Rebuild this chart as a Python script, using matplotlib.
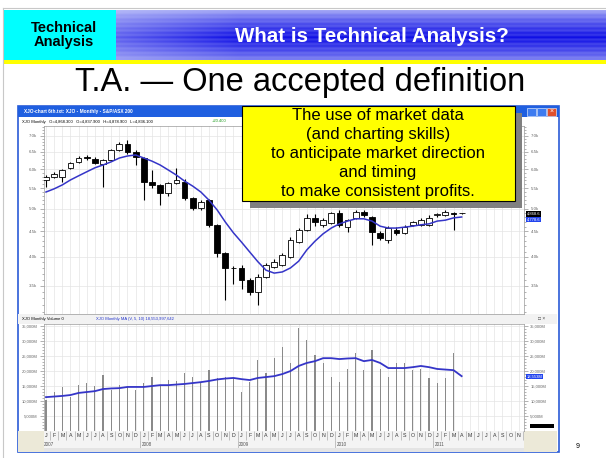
import numpy as np
import matplotlib.pyplot as plt
from matplotlib.patches import Rectangle
from matplotlib.ticker import FixedLocator, NullFormatter

plt.rcParams['font.family'] = ['Liberation Sans', 'DejaVu Sans']

W, H = 606, 458

# XJO monthly candles from Jan 2007
opens = [5710, 5790, 5790, 6040, 6210, 6340, 6300, 6150, 6270, 6560,
         6750, 6500, 6330, 5660, 5580, 5380, 5630, 5660, 5250, 5020,
         5210, 4640, 4080, 3800, 3800, 3600, 3400, 3650, 3820, 3850,
         4000, 4290, 4530, 4790, 4640, 4680, 4900, 4600, 4790, 4920,
         4810, 4470, 4330, 4530, 4470, 4640, 4640, 4640, 4850, 4860,
         4900, 4900]
highs = [5850, 5930, 6000, 6210, 6380, 6420, 6350, 6290, 6600, 6800,
         6870, 6550, 6350, 5980, 5600, 5660, 6040, 5730, 5280, 5200,
         5230, 4660, 4100, 3830, 3850, 3620, 3700, 3880, 3960, 4080,
         4380, 4580, 4880, 4870, 4790, 4930, 4980, 4770, 4980, 4960,
         4840, 4500, 4620, 4600, 4640, 4730, 4790, 4850, 4900, 4960,
         4920, 4910]
lows = [5530, 5760, 5660, 6000, 6180, 6270, 6150, 5530, 6230, 6520,
        6450, 6120, 5210, 5500, 5090, 5300, 5600, 5200, 4960, 4980,
        4600, 4000, 3280, 3520, 3440, 3350, 3200, 3620, 3790, 3830,
        3980, 4260, 4500, 4620, 4600, 4650, 4600, 4490, 4760, 4800,
        4230, 4320, 4270, 4430, 4440, 4620, 4620, 4620, 4800, 4840,
        4530, 4880]
closes = [5790, 5870, 5980, 6180, 6330, 6320, 6180, 6270, 6560, 6750,
          6500, 6350, 5660, 5580, 5380, 5630, 5710, 5250, 5020, 5160,
          4640, 4080, 3800, 3790, 3600, 3400, 3650, 3850, 3910, 4040,
          4330, 4530, 4790, 4700, 4750, 4900, 4640, 4750, 4920, 4860,
          4490, 4370, 4580, 4470, 4600, 4700, 4750, 4790, 4870, 4920,
          4880, 4890]
price_ma = [5400, 5480, 5580, 5710, 5820, 5930, 6040, 6120, 6210, 6320,
            6380, 6410, 6320, 6230, 6120, 5980, 5840, 5680, 5550, 5400,
            5200, 4970, 4700, 4470, 4280, 4090, 3910, 3760, 3710, 3730,
            3800, 3920, 4130, 4300, 4450, 4570, 4660, 4720, 4770, 4770,
            4720, 4610, 4570, 4570, 4590, 4610, 4640, 4660, 4720, 4740,
            4790, 4810]
# monthly volume, millions
volumes = [10300, 13000, 14700, 11300, 15300, 16000, 15000, 18700, 13700, 15300,
           14700, 13700, 16000, 18000, 15300, 17000, 16700, 19300, 18000, 16000,
           20300, 17700, 18000, 17700, 13000, 16300, 23700, 19300, 24300, 28000,
           22700, 34300, 30300, 25300, 22700, 18000, 16300, 20700, 26000, 20300,
           27000, 20700, 18000, 22700, 22700, 20300, 20700, 17700, 16000, 17700,
           26000]
volume_ma = [11300, 11500, 11700, 12000, 12700, 13000, 13300, 14000, 14200, 14300,
             14700, 14700, 14700, 15000, 15300, 15300, 15500, 15700, 16000, 16300,
             16700, 17200, 17500, 17700, 17300, 17000, 17700, 18000, 18300, 19000,
             20000, 21700, 22700, 23300, 24300, 24300, 24000, 24200, 24300, 23300,
             23700, 22700, 21000, 21000, 21000, 21300, 21700, 21300, 20700, 20500,
             20300, 18300]
month_letters = ['J', 'F', 'M', 'A', 'M', 'J', 'J', 'A', 'S', 'O', 'N', 'D']
years = ['2007', '2008', '2009', '2010', '2011']
n_months_axis = 59
price_ticks = [3500, 4000, 4500, 5000, 5500, 6000, 6500, 7000]
price_labels = ['3.5k', '4.0k', '4.5k', '5.0k', '5.5k', '6.0k', '6.5k', '7.0k']
vol_ticks = [5000, 10000, 15000, 20000, 25000, 30000, 35000]
vol_labels = ['5,000M', '10,000M', '15,000M', '20,000M', '25,000M', '30,000M', '35,000M']
definition = ['The use of market data', '(and charting skills)',
              'to anticipate market direction', 'and timing',
              'to make consistent profits.']

X0, X1 = -0.245, 58.65


def box(x0, y0, x1, y1):
    return [x0 / W, 1 - y1 / H, (x1 - x0) / W, (y1 - y0) / H]


fig = plt.figure(figsize=(W / 100, H / 100), dpi=100)

# ---- slide background / window chrome (pixel coords) ----
bg = fig.add_axes([0, 0, 1, 1])
bg.set_xlim(0, W)
bg.set_ylim(H, 0)
bg.axis('off')

bg.plot([3, 3], [8, H], color='#c8c8c8', lw=0.8)
bg.plot([3, W], [8, 8], color='#c8c8c8', lw=0.8)
bg.add_patch(Rectangle((4, 10), 112, 50, color='#00ffff', lw=0))

hy = np.linspace(0, 1, 50)[:, None]
hx = np.linspace(0, 1, 245)[None, :]
depth = np.clip(1 - np.abs(hy - 0.55) / 0.6, 0, 1) ** 0.6
streak = 0.5 + 0.5 * np.cos(hy * 2 * np.pi * 11)
fade = depth * (0.6 + 0.4 * np.clip(hx * 4, 0, 1)) * (0.85 + 0.15 * streak)
light = np.array([0.80, 0.82, 0.98])
dark = np.array([0.06, 0.06, 0.90])
grad = light * (1 - fade[..., None]) + dark * fade[..., None]
bg.imshow(grad, extent=(116, W, 60, 10), aspect='auto', interpolation='bilinear')
bg.set_xlim(0, W)
bg.set_ylim(H, 0)
bg.add_patch(Rectangle((4, 59.5), W - 4, 4.5, color='#ffff00', lw=0))

bg.text(64, 35, 'Technical\nAnalysis', ha='center', va='center', fontsize=10.5,
        fontweight='bold', linespacing=1.0)
bg.text(372, 37, 'What is Technical Analysis?', ha='center', va='center',
        fontsize=14.8, fontweight='bold', color='white')
bg.text(300, 82, 'T.A. \u2014 One accepted definition', ha='center', va='center',
        fontsize=23.5)

# window frame
bg.add_patch(Rectangle((18, 106), 541, 346, facecolor='white', edgecolor='#2a5bd7', lw=1.2))
bg.add_patch(Rectangle((18, 106), 541, 11, color='#1f5fe0', lw=0))
bg.text(24, 111.5, 'XJO-chart 6th.txt: XJO - Monthly - S&P/ASX 200', color='white',
        fontsize=3.4, fontweight='bold', va='center')
for bx, bc in [(527, '#3d7bf0'), (537, '#3d7bf0'), (547, '#e0502c')]:
    bg.add_patch(Rectangle((bx, 107.5), 9, 8.5, facecolor=bc, edgecolor='white', lw=0.4))
bg.text(551.5, 111.8, '\u00d7', color='white', fontsize=5, ha='center', va='center')
bg.text(22, 121.5, 'XJO Monthly   O=4,868.300   O=4,837.900   H=4,878.900   L=4,836.100',
        fontsize=3.0, va='center')
bg.text(212, 121.5, '+20.400', fontsize=3.0, va='center', color='#1a9a1a')
bg.add_patch(Rectangle((18, 314), 539, 10, color='#f2f2f2', lw=0))
bg.text(22, 319, 'XJO Monthly Volume 0', fontsize=3.0, va='center')
bg.text(96, 319, 'XJO Monthly MA (V, 5, 10) 18,553,997,642', fontsize=3.0,
        va='center', color='#2233cc')
bg.text(542, 319, '\u25a1 \u00d7', fontsize=3.5, va='center', ha='center', color='#444444')
bg.add_patch(Rectangle((18, 431), 26, 21, color='#ece9d8', lw=0))
bg.add_patch(Rectangle((524, 431), 33, 21, color='#ece9d8', lw=0))
bg.add_patch(Rectangle((44, 448), 480, 4, color='#e4e4e4', lw=0))
bg.add_patch(Rectangle((530, 424), 24, 4, color='black', lw=0))
bg.text(578, 446, '9', fontsize=5, ha='center', va='center')

x = np.arange(len(closes))

# ---- price pane ----
ax_p = fig.add_axes(box(44, 126, 524, 314))
ax_p.set_yscale('log')
ax_p.set_xlim(X0, X1)
ax_p.set_ylim(3070, 7330)
for m in range(n_months_axis):
    ax_p.axvline(m, color='#e4e4e4', lw=0.5, zorder=0)
for t in price_ticks:
    ax_p.axhline(t, color='#e4e4e4', lw=0.5, zorder=0)
up = [c >= o for o, c in zip(opens, closes)]
ax_p.vlines(x, lows, highs, color='black', lw=0.8, zorder=2)
ax_p.bar(x, [max(abs(c - o), 8) for o, c in zip(opens, closes)],
         bottom=[min(o, c) for o, c in zip(opens, closes)], width=0.7,
         color=['white' if u else 'black' for u in up], edgecolor='black',
         lw=0.6, zorder=3)
ax_p.plot(x, price_ma, color='#3535c8', lw=1.1, zorder=4)
ax_p.yaxis.set_major_locator(FixedLocator(price_ticks))
ax_p.set_yticklabels(price_labels)
ax_p.yaxis.set_minor_locator(FixedLocator(list(range(3100, 7400, 100))))
ax_p.yaxis.set_minor_formatter(NullFormatter())
ax_p.tick_params(axis='y', which='both', left=True, right=True, labelleft=True,
                 labelright=True, labelsize=3.2, labelcolor='#666666', color='#777777',
                 width=0.4, pad=2)
ax_p.tick_params(axis='y', which='major', length=3)
ax_p.tick_params(axis='y', which='minor', length=1.5)
ax_p.set_xticks([])
for s in ax_p.spines.values():
    s.set_color('#9a9a9a')
    s.set_linewidth(0.5)
for val, txt, fc in [(4880, '4,868.6', 'black'), (4760, '4,778.6', '#2244ee')]:
    ax_p.annotate(txt, xy=(1.0, val), xycoords=('axes fraction', 'data'),
                  xytext=(2, 0), textcoords='offset points', fontsize=3, color='white',
                  va='center', bbox=dict(boxstyle='square,pad=0.15', fc=fc, ec='none'))

# ---- volume pane ----
ax_v = fig.add_axes(box(44, 324, 524, 431))
ax_v.set_xlim(X0, X1)
ax_v.set_ylim(0, 35700)
for m in range(n_months_axis):
    ax_v.axvline(m, color='#e4e4e4', lw=0.5, zorder=0)
for t in vol_ticks:
    ax_v.axhline(t, color='#e4e4e4', lw=0.5, zorder=0)
ax_v.bar(x[:len(volumes)], volumes, width=0.14, color='#8a8a8a', zorder=2)
ax_v.plot(x, volume_ma, color='#3535c8', lw=1.3, zorder=3)
ax_v.yaxis.set_major_locator(FixedLocator(vol_ticks))
ax_v.set_yticklabels(vol_labels)
ax_v.yaxis.set_minor_locator(FixedLocator(list(range(1000, 35700, 1000))))
ax_v.tick_params(axis='y', which='both', left=True, right=True, labelleft=True,
                 labelright=True, labelsize=3.0, labelcolor='#666666', color='#777777',
                 width=0.4, pad=1.5)
ax_v.tick_params(axis='y', which='major', length=3)
ax_v.tick_params(axis='y', which='minor', length=1.5)
ax_v.set_xticks([])
for s in ax_v.spines.values():
    s.set_color('#9a9a9a')
    s.set_linewidth(0.5)
ax_v.annotate('18,553M', xy=(1.0, volume_ma[-1]), xycoords=('axes fraction', 'data'),
              xytext=(2, 0), textcoords='offset points', fontsize=3, color='white',
              va='center', bbox=dict(boxstyle='square,pad=0.15', fc='#2244ee', ec='none'))

# ---- month / year rows ----
ax_m = fig.add_axes(box(44, 431, 524, 448))
ax_m.set_xlim(X0, X1)
ax_m.set_ylim(0, 2)
ax_m.axis('off')
ax_m.add_patch(Rectangle((X0, 0), X1 - X0, 2, color='#f4f4f4', lw=0, zorder=0))
ax_m.vlines(np.arange(n_months_axis) + 0.5, 0.9, 2, color='#9a9a9a', lw=0.4)
for m in range(n_months_axis):
    ax_m.text(m, 1.45, month_letters[m % 12], fontsize=3.8, ha='center', va='center',
              color='#333333')
for i, yr in enumerate(years):
    ax_m.vlines(i * 12 - 0.5, 0, 0.9, color='#9a9a9a', lw=0.4)
    ax_m.text(i * 12 - 0.3, 0.45, yr, fontsize=3.3, ha='left', va='center', color='#555555')

# ---- definition box on top ----
top = fig.add_axes([0, 0, 1, 1])
top.set_xlim(0, W)
top.set_ylim(H, 0)
top.axis('off')
top.patch.set_alpha(0)
top.add_patch(Rectangle((250, 113), 272, 95, color='#808080', lw=0))
top.add_patch(Rectangle((242, 106), 273, 95, facecolor='#ffff00', edgecolor='black', lw=0.8))
for i, line in enumerate(definition):
    top.text(378, 115 + 19.2 * i, line, ha='center', va='center', fontsize=12)

fig.savefig('out.png', dpi=100)
